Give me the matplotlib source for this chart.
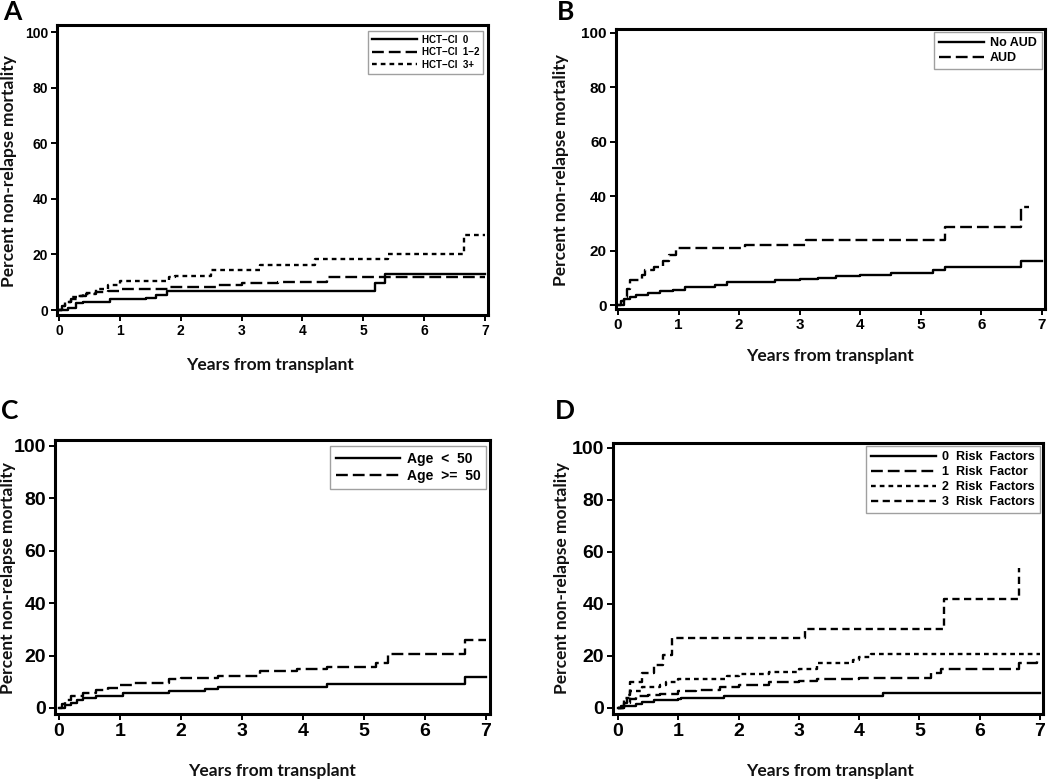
import matplotlib
matplotlib.use("Agg")
import matplotlib.pyplot as plt

plt.rcParams["lines.scale_dashes"] = False

# ---------------- data (years, percent NRM) ----------------
a_hct0_t = [0, 0.15, 0.28, 0.4, 0.83, 1.43, 1.6, 1.77, 5.19, 5.36, 7.0]
a_hct0_y = [0, 0.6, 2.4, 3.0, 3.8, 4.4, 5.4, 6.8, 9.8, 12.9, 12.9]
a_hct12_t = [0, 0.05, 0.1, 0.2, 0.3, 0.45, 0.6, 0.8, 1.0, 1.8, 2.6, 3.0, 3.6, 4.4, 7.0]
a_hct12_y = [0, 1.5, 3, 4, 5, 5.8, 6.5, 7, 7.5, 8.1, 9, 9.6, 10.2, 11.7, 11.7]
a_hct3_t = [0, 0.05, 0.1, 0.2, 0.3, 0.4, 0.6, 0.8, 1.0, 1.8, 1.9, 2.5, 3.3, 4.2, 5.4, 6.65, 7.0]
a_hct3_y = [0, 1.5, 3, 4.5, 5.2, 6, 7.5, 9, 10.4, 11.7, 12.4, 14.5, 16.2, 18.2, 20.1, 27, 27]
a_labels = ["HCT\u2212CI  0", "HCT\u2212CI  1\u22122", "HCT\u2212CI  3+"]

b_no_t = [0, 0.05, 0.1, 0.2, 0.3, 0.5, 0.7, 0.9, 1.1, 1.6, 1.8, 2.4, 2.6, 3.0, 3.3, 3.6, 4.0, 4.5, 5.2, 5.4, 6.65, 7.0]
b_no_y = [0, 1.5, 2.2, 3.0, 3.8, 4.5, 5.0, 5.6, 6.7, 7.2, 8.3, 8.6, 9.3, 9.6, 10.0, 10.5, 11.0, 11.7, 12.8, 14.0, 16.2, 16.2]
b_aud_t = [0, 0.1, 0.15, 0.2, 0.4, 0.45, 0.6, 0.75, 0.85, 0.95, 2.1, 3.1, 5.4, 6.65, 6.78]
b_aud_y = [0, 3, 6, 9.3, 11, 13, 14, 16, 18.5, 20.8, 22.2, 24, 28.5, 36, 36]
b_labels = ["No AUD", "AUD"]

c_lt_t = [0, 0.1, 0.2, 0.3, 0.4, 0.6, 1.05, 1.8, 2.4, 2.6, 4.4, 6.65, 7.0]
c_lt_y = [0, 1, 2, 3, 4, 4.7, 5.7, 6.5, 7.2, 8.0, 9.0, 12.0, 12.0]
c_ge_t = [0, 0.05, 0.1, 0.2, 0.4, 0.6, 0.8, 1.0, 1.2, 1.8, 2.0, 2.6, 3.3, 3.9, 4.4, 5.2, 5.4, 6.65, 7.0]
c_ge_y = [0, 1.5, 3, 4.5, 5.8, 6.7, 7.5, 8.8, 9.6, 11, 11.5, 12.3, 14, 15, 15.8, 17, 20.5, 26, 26]
c_labels = ["Age  <  50", "Age  >=  50"]

d0_t = [0, 0.05, 0.3, 0.4, 0.6, 1.0, 1.05, 1.75, 4.4, 7.0]
d0_y = [0, 0.6, 1.5, 2.5, 3.0, 3.5, 3.8, 4.5, 5.8, 5.8]
d1_t = [0, 0.1, 0.2, 0.3, 0.5, 0.7, 1.0, 1.3, 1.7, 2.0, 2.5, 3.0, 3.3, 4.0, 5.2, 5.35, 6.65, 6.95, 7.0]
d1_y = [0, 2, 3.5, 4.5, 5, 5.5, 6.5, 7, 8, 9, 10, 10.5, 11, 11.5, 13.5, 15, 17.5, 18, 18]
d2_t = [0, 0.1, 0.2, 0.4, 0.7, 0.8, 1.0, 1.8, 2.0, 2.5, 3.0, 3.3, 3.9, 4.0, 4.2, 7.0]
d2_y = [0, 4, 6.5, 8, 9, 10, 11, 12.5, 13, 14, 15, 17.5, 18.5, 19.5, 20.8, 20.8]
d3_t = [0, 0.1, 0.15, 0.2, 0.4, 0.6, 0.75, 0.9, 3.1, 5.4, 6.65]
d3_y = [0, 2, 5, 10, 13.5, 16.5, 20.5, 27, 30.5, 42, 54]
d_labels = ["0  Risk  Factors", "1  Risk  Factor", "2  Risk  Factors", "3  Risk  Factors"]

x_ticks = [0, 1, 2, 3, 4, 5, 6, 7]
y_ticks = [0, 20, 40, 60, 80, 100]
x_label = "Years from transplant"
y_label = "Percent non-relapse mortality"

# ---------------- styles ----------------
SOLID = "-"
LONG = (0, (8.5, 3.6))
SHORT = (0, (3.4, 2.9))
MED = (0, (5.2, 3.2))

W, H = 1050, 782
fig = plt.figure(figsize=(W / 100, H / 100), dpi=100)


def fx(px):
    return px / W


def fy(py):
    return 1 - py / H


def make_panel(box, x0px, x7px, y0px, y100px, tick_fs, letter, letter_xy,
               xlab_xy, ylab_xy, series, leg_corner, leg_fs, leg_hl):
    l, t, r, b = box
    ax = fig.add_axes([fx(l), fy(b), (r - l) / W, (b - t) / H])
    sx = (x7px - x0px) / 7.0
    sy = (y0px - y100px) / 100.0
    ax.set_xlim((l - x0px) / sx, 7 + (r - x7px) / sx)
    ax.set_ylim(-(b - y0px) / sy, 100 + (y100px - t) / sy)
    for tt, yy, ls, lab in series:
        ax.step(tt, yy, where="post", color="black", lw=1.7, linestyle=ls,
                label=lab)
    ax.set_xticks(x_ticks)
    ax.set_yticks(y_ticks)
    for sp in ax.spines.values():
        sp.set_linewidth(2.2)
    ax.tick_params(axis="both", length=4, width=1.4, pad=2.5,
                   labelsize=tick_fs)
    for lab in ax.get_xticklabels() + ax.get_yticklabels():
        lab.set_fontfamily("Liberation Sans")
        lab.set_fontweight("bold")
    leg = ax.legend(loc="upper right", bbox_to_anchor=(fx(leg_corner[0]), fy(leg_corner[1])),
                    bbox_transform=fig.transFigure, borderaxespad=0,
                    frameon=True, fancybox=False, edgecolor="#888888",
                    handlelength=leg_hl, handletextpad=0.5, labelspacing=0.25,
                    borderpad=0.4,
                    prop={"family": "Liberation Sans", "weight": "bold", "size": leg_fs})
    leg.get_frame().set_linewidth(1.0)
    fig.text(fx(letter_xy[0]), fy(letter_xy[1]), letter, ha="center", va="center",
             fontsize=19, fontweight="bold", family="Lato")
    fig.text(fx(xlab_xy[0]), fy(xlab_xy[1]), x_label, ha="center", va="center",
             fontsize=12.5, fontweight="bold", family="Lato", color="#111111")
    fig.text(fx(ylab_xy[0]), fy(ylab_xy[1]), y_label, ha="center", va="center",
             rotation=90, fontsize=12.5, fontweight="bold", family="Lato",
             color="#111111")
    return ax


make_panel((57, 25, 488, 315), 59, 485, 310, 32, 10, "A", (12, 12),
           (270, 365), (9, 171),
           [(a_hct0_t, a_hct0_y, SOLID, a_labels[0]),
            (a_hct12_t, a_hct12_y, LONG, a_labels[1]),
            (a_hct3_t, a_hct3_y, SHORT, a_labels[2])],
           (483, 31), 7, 4.6)

make_panel((616, 29, 1045, 309), 618, 1042, 305, 33, 11, "B", (566, 12),
           (830, 356), (561, 170),
           [(b_no_t, b_no_y, SOLID, b_labels[0]),
            (b_aud_t, b_aud_y, LONG, b_labels[1])],
           (1042, 32), 9, 3.6)

make_panel((55, 440, 490, 714), 59, 486, 708, 446, 14, "C", (10, 411),
           (272, 771), (8, 578),
           [(c_lt_t, c_lt_y, SOLID, c_labels[0]),
            (c_ge_t, c_ge_y, LONG, c_labels[1])],
           (486, 446), 10, 4.6)

make_panel((613, 443, 1043, 714), 618, 1040, 708, 448, 14, "D", (565, 411),
           (830, 771), (562, 578),
           [(d0_t, d0_y, SOLID, d_labels[0]),
            (d1_t, d1_y, LONG, d_labels[1]),
            (d2_t, d2_y, SHORT, d_labels[2]),
            (d3_t, d3_y, MED, d_labels[3])],
           (1040, 446), 9, 5.2)

fig.savefig("out.png", dpi=100)
